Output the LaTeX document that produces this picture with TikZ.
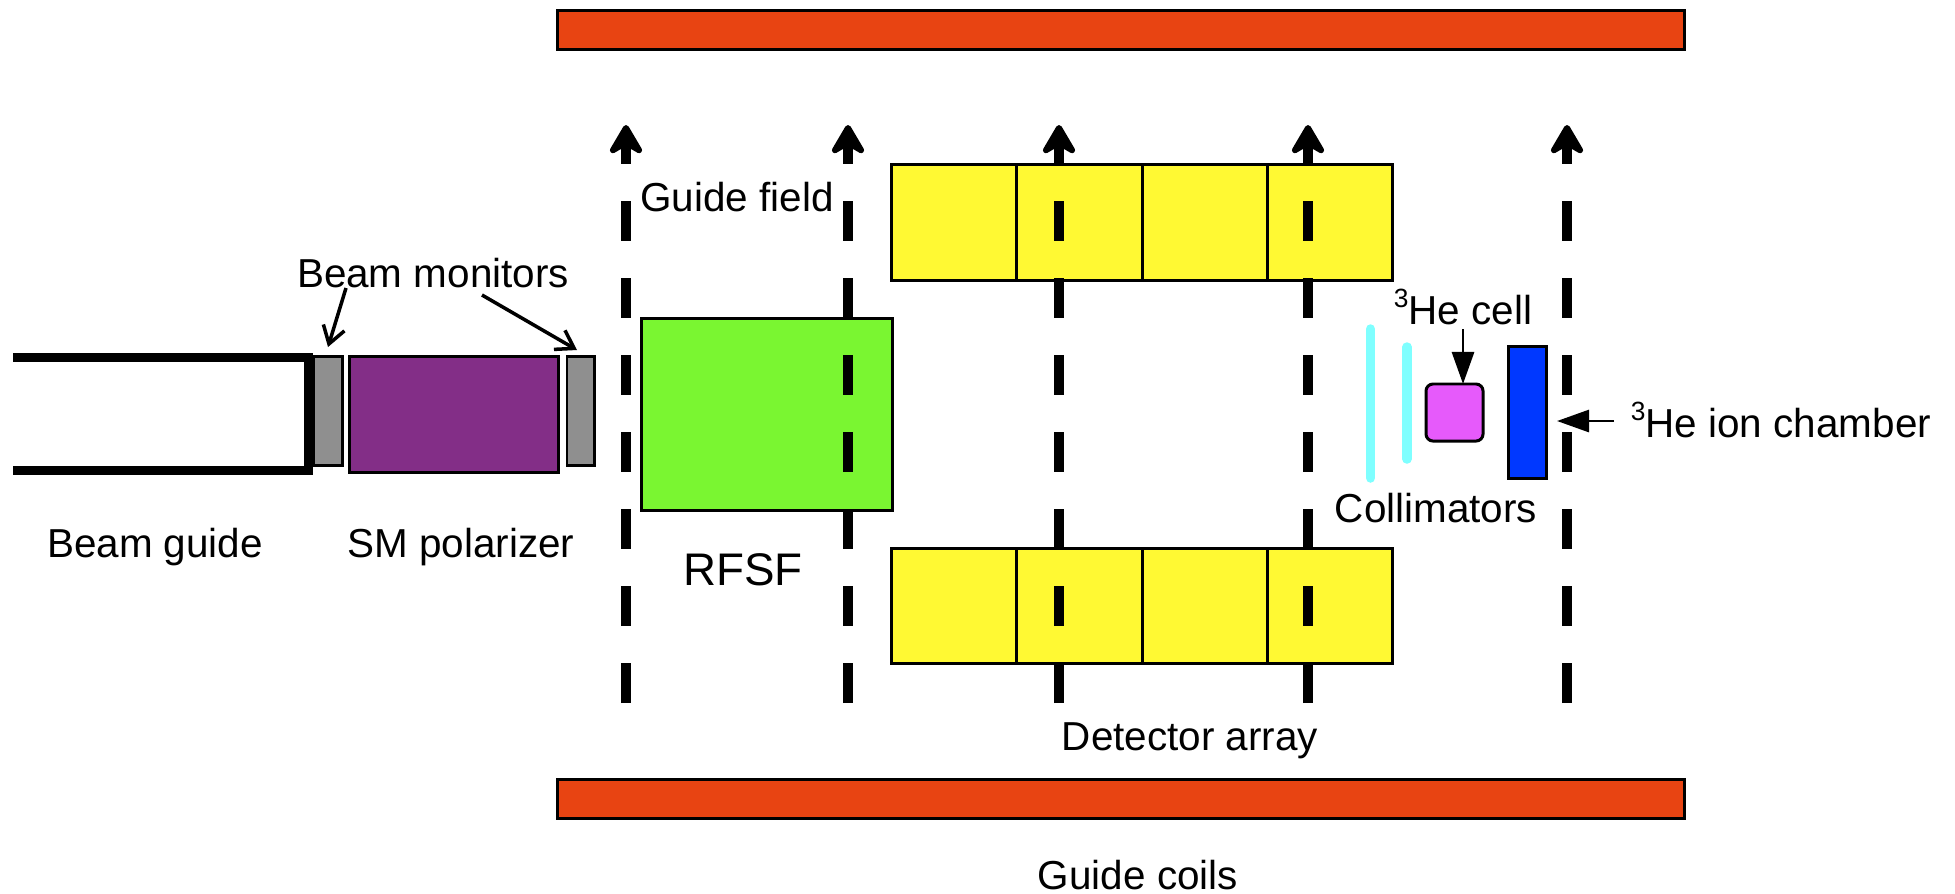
\documentclass[tikz,border=0pt]{standalone}
\usepackage{fontspec}
\setmainfont{Liberation Sans}
\usetikzlibrary{arrows.meta}

\definecolor{coilred}{HTML}{E84412}
\definecolor{rfgreen}{HTML}{7AF631}
\definecolor{detyellow}{HTML}{FFF933}
\definecolor{polpurple}{HTML}{832E87}
\definecolor{mongray}{HTML}{8F8F8F}
\definecolor{colcyan}{HTML}{7FFFFF}
\definecolor{cellpink}{HTML}{E65AFB}
\definecolor{ionblue}{HTML}{0038FF}

\newcommand{\hethree}{\raisebox{0.42em}{\fontsize{7.5}{8}\selectfont 3}}

\tikzset{
  device/.style={draw=black, line width=0.85pt, inner sep=0pt, outer sep=0pt},
  lbl/.style={anchor=base, inner sep=0pt, font=\fontsize{11.5}{13}\selectfont},
  fieldline/.style={line width=0.1cm, dash pattern=on 0.40cm off 0.37cm,
    -{Stealth[length=0.36cm,width=0.42cm,inset=0.12cm,round]}},
  barbarrow/.style={line width=1pt, -{Straight Barb[length=0.17cm,width=0.22cm]}},
  solidarrow/.style={line width=0.8pt, -{Triangle[length=0.32cm,width=0.22cm]}},
}

\begin{document}
\begin{tikzpicture}[x=0.01cm, y=-0.01cm]

\useasboundingbox (0,0) rectangle (1955,893);

% guide coils
\node[device, fill=coilred, minimum width=11.27cm, minimum height=0.39cm] (coiltop) at (1121,30) {};
\node[device, fill=coilred, minimum width=11.27cm, minimum height=0.39cm] (coilbot) at (1121,799) {};

% beam guide, monitors, polarizer
\draw[line width=0.09cm] (13,357) -- (308,357) -- (308,470) -- (13,470);
\node[device, fill=mongray, minimum width=0.28cm, minimum height=1.08cm] (montwo) at (328,411) {};
\node[device, fill=polpurple, minimum width=2.09cm, minimum height=1.15cm] (polarizer) at (454,414.5) {};
\node[device, fill=mongray, minimum width=0.27cm, minimum height=1.08cm] (monone) at (580.5,411) {};

% spin flipper
\node[device, fill=rfgreen, minimum width=2.51cm, minimum height=1.91cm] (rfsf) at (767,414.5) {};

% detector array
\node[device, fill=detyellow, minimum width=1.25cm, minimum height=1.16cm] (deta) at (954.5,222.5) {};
\node[device, fill=detyellow, minimum width=1.26cm, minimum height=1.16cm] (detb) at (1080,222.5) {};
\node[device, fill=detyellow, minimum width=1.25cm, minimum height=1.16cm] (detc) at (1205.5,222.5) {};
\node[device, fill=detyellow, minimum width=1.24cm, minimum height=1.16cm] (detd) at (1330,222.5) {};
\node[device, fill=detyellow, minimum width=1.25cm, minimum height=1.15cm] (dete) at (954.5,606) {};
\node[device, fill=detyellow, minimum width=1.26cm, minimum height=1.15cm] (detf) at (1080,606) {};
\node[device, fill=detyellow, minimum width=1.25cm, minimum height=1.15cm] (detg) at (1205.5,606) {};
\node[device, fill=detyellow, minimum width=1.24cm, minimum height=1.15cm] (deth) at (1330,606) {};

% collimators, cell, chamber
\draw[colcyan, line width=0.095cm, line cap=round] (1370.5,329) -- (1370.5,478);
\draw[colcyan, line width=0.095cm, line cap=round] (1407,347) -- (1407,459);
\node[device, fill=cellpink, rounded corners=0.07cm, minimum width=0.57cm, minimum height=0.57cm] (cell) at (1454.5,412.5) {};
\node[device, fill=ionblue, minimum width=0.38cm, minimum height=1.31cm] (chamber) at (1527,412.5) {};

% guide field lines
\coordinate (fielda) at (626,703);
\coordinate (fieldatop) at (626,125);
\coordinate (fieldb) at (848,703);
\coordinate (fieldbtop) at (848,125);
\coordinate (fieldc) at (1059,703);
\coordinate (fieldctop) at (1059,125);
\coordinate (fieldd) at (1308,703);
\coordinate (fielddtop) at (1308,125);
\coordinate (fielde) at (1567,703);
\coordinate (fieldetop) at (1567,125);
\draw[fieldline] (fielda) -- (fieldatop);
\draw[fieldline] (fieldb) -- (fieldbtop);
\draw[fieldline] (fieldc) -- (fieldctop);
\draw[fieldline] (fieldd) -- (fielddtop);
\draw[fieldline] (fielde) -- (fieldetop);

% labels
\node[lbl] (beamguide) at (155,557) {Beam guide};
\node[lbl] (smpol) at (461,557) {SM polarizer};
\node[lbl] (monlabel) at (433,287) {Beam monitors};
\node[lbl] (guidefield) at (737,211) {Guide field};
\node[lbl, font=\fontsize{13}{15}\selectfont] (rfsflabel) at (743,585) {RFSF};
\node[lbl] (detlabel) at (1190,750) {Detector array};
\node[lbl] (coillabel) at (1138,889) {Guide coils};
\node[lbl] (collabel) at (1436,522) {Collimators};
\node[lbl] (celllabel) at (1463,324) {\hethree He cell};
\node[lbl] (ionlabel) at (1781,437) {\hethree He ion chamber};

% callouts
\coordinate (montaila) at (346,288);
\coordinate (montipa) at (328,347);
\coordinate (montailb) at (482,295);
\coordinate (montipb) at (577,350);
\coordinate (celltail) at (1463,329);
\coordinate (iontail) at (1614,421);
\coordinate (iontip) at (1557,421);
\draw[barbarrow] (montaila) -- (montipa);
\draw[barbarrow] (montailb) -- (montipb);
\draw[solidarrow] (celltail) -- (celltail |- cell.north);
\draw[solidarrow] (iontail) -- (iontip);

\end{tikzpicture}
\end{document}
